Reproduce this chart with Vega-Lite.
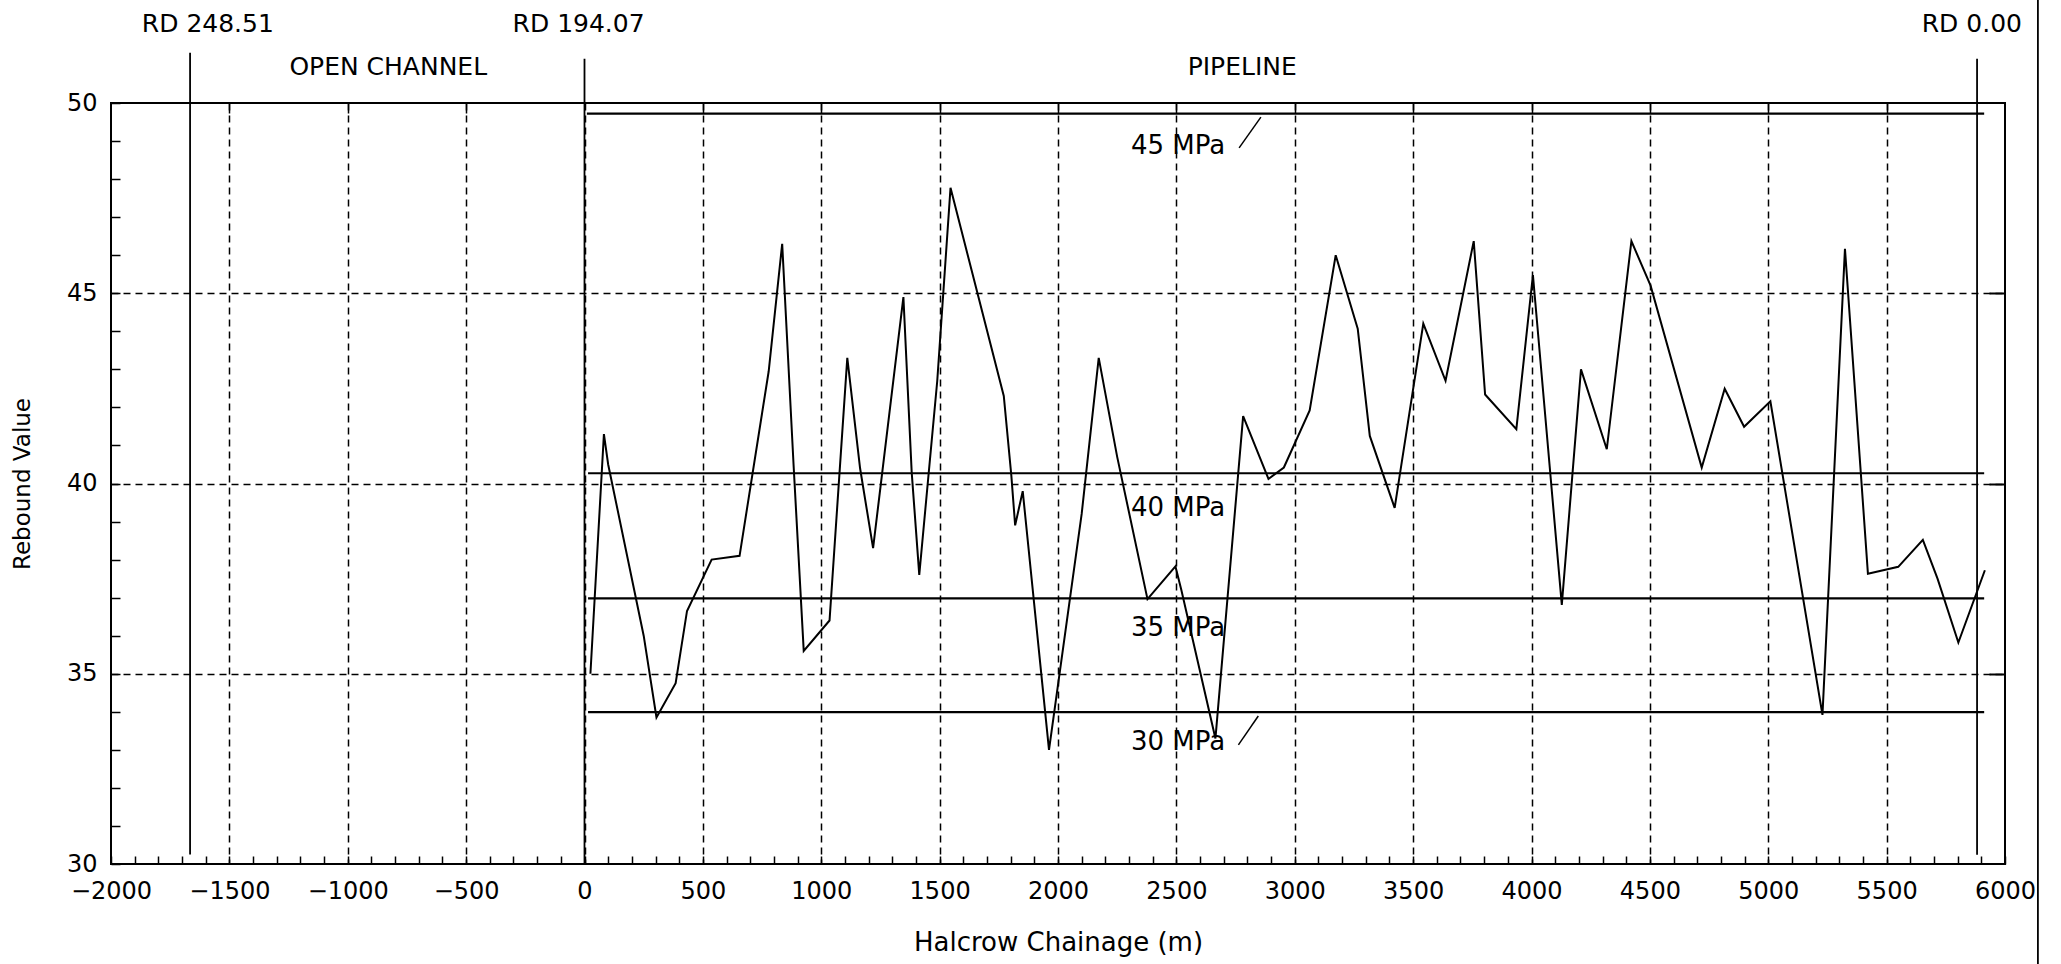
{
  "$schema": "https://vega.github.io/schema/vega-lite/v6.json",
  "width": 1894,
  "height": 761,
  "autosize": {"type": "none"},
  "padding": {"left": 111, "top": 103, "right": 56, "bottom": 100},
  "background": "white",
  "config": {
    "view": {"stroke": "black", "strokeWidth": 2},
    "font": "DejaVu Sans"
  },
  "datasets": {
    "series": [
      {"chainage": 25, "value": 35.0},
      {"chainage": 82, "value": 41.3},
      {"chainage": 100, "value": 40.5},
      {"chainage": 250, "value": 36.0},
      {"chainage": 304, "value": 33.85},
      {"chainage": 385, "value": 34.75},
      {"chainage": 433, "value": 36.65},
      {"chainage": 537, "value": 38.0},
      {"chainage": 655, "value": 38.1},
      {"chainage": 778, "value": 42.95},
      {"chainage": 835, "value": 46.3},
      {"chainage": 883, "value": 40.5},
      {"chainage": 926, "value": 35.6},
      {"chainage": 1035, "value": 36.4},
      {"chainage": 1110, "value": 43.3},
      {"chainage": 1164, "value": 40.4},
      {"chainage": 1219, "value": 38.3},
      {"chainage": 1347, "value": 44.9},
      {"chainage": 1382, "value": 40.3},
      {"chainage": 1414, "value": 37.6},
      {"chainage": 1490, "value": 42.7},
      {"chainage": 1546, "value": 47.77},
      {"chainage": 1771, "value": 42.3},
      {"chainage": 1803, "value": 40.2},
      {"chainage": 1819, "value": 38.9},
      {"chainage": 1851, "value": 39.8},
      {"chainage": 1962, "value": 33.0},
      {"chainage": 2100, "value": 39.2},
      {"chainage": 2172, "value": 43.3},
      {"chainage": 2250, "value": 40.7},
      {"chainage": 2378, "value": 36.96},
      {"chainage": 2496, "value": 37.82},
      {"chainage": 2521, "value": 37.2},
      {"chainage": 2665, "value": 33.3},
      {"chainage": 2782, "value": 41.77},
      {"chainage": 2889, "value": 40.12},
      {"chainage": 2954, "value": 40.42},
      {"chainage": 3063, "value": 41.92},
      {"chainage": 3173, "value": 46.0},
      {"chainage": 3266, "value": 44.07},
      {"chainage": 3317, "value": 41.25},
      {"chainage": 3422, "value": 39.36},
      {"chainage": 3543, "value": 44.2},
      {"chainage": 3637, "value": 42.7},
      {"chainage": 3756, "value": 46.37},
      {"chainage": 3804, "value": 42.34},
      {"chainage": 3936, "value": 41.43},
      {"chainage": 4006, "value": 45.48},
      {"chainage": 4128, "value": 36.81},
      {"chainage": 4209, "value": 43.0},
      {"chainage": 4318, "value": 40.9},
      {"chainage": 4422, "value": 46.37},
      {"chainage": 4503, "value": 45.2},
      {"chainage": 4719, "value": 40.42},
      {"chainage": 4816, "value": 42.49},
      {"chainage": 4898, "value": 41.49},
      {"chainage": 5009, "value": 42.16},
      {"chainage": 5229, "value": 33.92},
      {"chainage": 5324, "value": 46.17},
      {"chainage": 5421, "value": 37.63},
      {"chainage": 5549, "value": 37.81},
      {"chainage": 5653, "value": 38.52},
      {"chainage": 5715, "value": 37.5},
      {"chainage": 5803, "value": 35.82},
      {"chainage": 5915, "value": 37.72}
    ],
    "mpaLines": [
      {"label": "45 MPa", "chainage": 10, "chainageEnd": 5912, "value": 49.72},
      {"label": "40 MPa", "chainage": 15, "chainageEnd": 5912, "value": 40.27},
      {"label": "35 MPa", "chainage": 15, "chainageEnd": 5912, "value": 36.98},
      {"label": "30 MPa", "chainage": 15, "chainageEnd": 5912, "value": 33.99}
    ],
    "mpaLabels": [
      {"text": "45 MPa", "chainage": 2507, "value": 48.87},
      {"text": "40 MPa", "chainage": 2507, "value": 39.36},
      {"text": "35 MPa", "chainage": 2507, "value": 36.21},
      {"text": "30 MPa", "chainage": 2507, "value": 33.21}
    ],
    "leaders": [
      {"chainage": 2765, "value": 48.82, "chainageEnd": 2857, "valueEnd": 49.63},
      {"chainage": 2762, "value": 33.13, "chainageEnd": 2846, "valueEnd": 33.89}
    ],
    "sections": [
      {"name": "RD 248.51", "chainage": -1666, "value": 30.25, "valueEnd": 51.32},
      {"name": "RD 194.07", "chainage": 0, "value": 30.0, "valueEnd": 51.16},
      {"name": "RD 0.00", "chainage": 5882, "value": 30.24, "valueEnd": 51.16},
      {"name": "page edge", "chainage": 6139, "value": 27.3, "valueEnd": 52.8}
    ],
    "headings": [
      {"text": "RD 248.51", "chainage": -1591, "value": 52.07},
      {"text": "RD 194.07", "chainage": -25, "value": 52.07},
      {"text": "RD 0.00", "chainage": 5860, "value": 52.07},
      {"text": "OPEN CHANNEL", "chainage": -829, "value": 50.95},
      {"text": "PIPELINE", "chainage": 2778, "value": 50.95}
    ]
  },
  "encoding": {
    "x": {
      "field": "chainage",
      "type": "quantitative",
      "scale": {"domain": [-2000, 6000], "nice": false, "zero": false},
      "axis": null
    },
    "y": {
      "field": "value",
      "type": "quantitative",
      "scale": {"domain": [30, 50], "nice": false, "zero": false},
      "axis": null
    }
  },
  "resolve": {"axis": {"x": "independent", "y": "independent"}},
  "layer": [
    {
      "data": {"name": "mpaLines"},
      "mark": {"type": "rule", "color": "black", "strokeWidth": 2.2, "clip": false},
      "encoding": {"x2": {"field": "chainageEnd"}}
    },
    {
      "data": {"name": "sections"},
      "mark": {"type": "rule", "color": "black", "strokeWidth": 1.8, "clip": false},
      "encoding": {"y2": {"field": "valueEnd"}}
    },
    {
      "data": {"name": "leaders"},
      "mark": {"type": "rule", "color": "black", "strokeWidth": 1.5, "clip": false},
      "encoding": {
        "x": {
          "field": "chainage",
          "type": "quantitative",
          "scale": {"domain": [-2000, 6000], "nice": false, "zero": false},
          "axis": {
            "orient": "top",
            "title": null,
            "values": [-1500,-1000,-500,500,1000,1500,2000,2500,3000,3500,4000,4500,5000,5500],
            "labels": false,
            "grid": false,
            "domain": false,
            "tickSize": -10,
            "tickColor": "black",
            "tickWidth": 1.5
          }
        },
        "y": {
          "field": "value",
          "type": "quantitative",
          "scale": {"domain": [30, 50], "nice": false, "zero": false},
          "axis": {
            "orient": "right",
            "title": null,
            "values": [35, 40, 45],
            "labels": false,
            "grid": false,
            "domain": false,
            "tickSize": -16,
            "tickColor": "black",
            "tickWidth": 2
          }
        },
        "x2": {"field": "chainageEnd"},
        "y2": {"field": "valueEnd"}
      }
    },
    {
      "data": {"name": "series"},
      "mark": {"type": "line", "color": "black", "strokeWidth": 2, "clip": false},
      "encoding": {
        "x": {
          "field": "chainage",
          "type": "quantitative",
          "scale": {"domain": [-2000, 6000], "nice": false, "zero": false},
          "axis": {
            "orient": "bottom",
            "title": "Halcrow Chainage (m)",
            "format": "d",
            "values": [-2000,-1900,-1800,-1700,-1600,-1500,-1400,-1300,-1200,-1100,-1000,-900,-800,-700,-600,-500,-400,-300,-200,-100,0,100,200,300,400,500,600,700,800,900,1000,1100,1200,1300,1400,1500,1600,1700,1800,1900,2000,2100,2200,2300,2400,2500,2600,2700,2800,2900,3000,3100,3200,3300,3400,3500,3600,3700,3800,3900,4000,4100,4200,4300,4400,4500,4600,4700,4800,4900,5000,5100,5200,5300,5400,5500,5600,5700,5800,5900,6000],
            "labelExpr": "datum.value % 500 === 0 ? datum.label : ''",
            "labelOverlap": false,
            "labelFlush": false,
            "labelBound": false,
            "labelFont": "DejaVu Sans",
            "labelFontSize": 24,
            "labelColor": "black",
            "labelPadding": 23,
            "tickSize": -8,
            "tickColor": "black",
            "tickWidth": 1.5,
            "domain": false,
            "grid": true,
            "gridColor": "black",
            "gridWidth": 1.5,
            "gridDash": [7, 5],
            "gridOpacity": {"condition": {"test": "datum.value % 500 === 0 && datum.value > -2000 && datum.value < 6000", "value": 1}, "value": 0},
            "titleFont": "DejaVu Sans",
            "titleFontSize": 26,
            "titleFontWeight": "normal",
            "titleColor": "black",
            "titlePadding": 26
          }
        },
        "y": {
          "field": "value",
          "type": "quantitative",
          "scale": {"domain": [30, 50], "nice": false, "zero": false},
          "axis": {
            "orient": "left",
            "title": "Rebound Value",
            "format": "d",
            "values": [30,31,32,33,34,35,36,37,38,39,40,41,42,43,44,45,46,47,48,49,50],
            "labelExpr": "datum.value % 5 === 0 ? datum.label : ''",
            "labelOverlap": false,
            "labelFlush": false,
            "labelBound": false,
            "labelFont": "DejaVu Sans",
            "labelFontSize": 24,
            "labelColor": "black",
            "labelPadding": 23,
            "tickSize": -9,
            "tickColor": "black",
            "tickWidth": 1.5,
            "domain": false,
            "grid": true,
            "gridColor": "black",
            "gridWidth": 1.5,
            "gridDash": [7, 5],
            "gridOpacity": {"condition": {"test": "datum.value % 5 === 0 && datum.value > 30 && datum.value < 50", "value": 1}, "value": 0},
            "titleFont": "DejaVu Sans",
            "titleFontSize": 23,
            "titleFontWeight": "normal",
            "titleColor": "black",
            "titlePadding": 32
          }
        }
      }
    },
    {
      "data": {"name": "mpaLabels"},
      "mark": {"type": "text", "font": "DejaVu Sans", "fontSize": 26, "align": "center", "baseline": "middle", "color": "black", "clip": false},
      "encoding": {"text": {"field": "text"}}
    },
    {
      "data": {"name": "headings"},
      "mark": {"type": "text", "font": "DejaVu Sans", "fontSize": 25, "align": "center", "baseline": "middle", "color": "black", "clip": false},
      "encoding": {"text": {"field": "text"}}
    }
  ]
}
